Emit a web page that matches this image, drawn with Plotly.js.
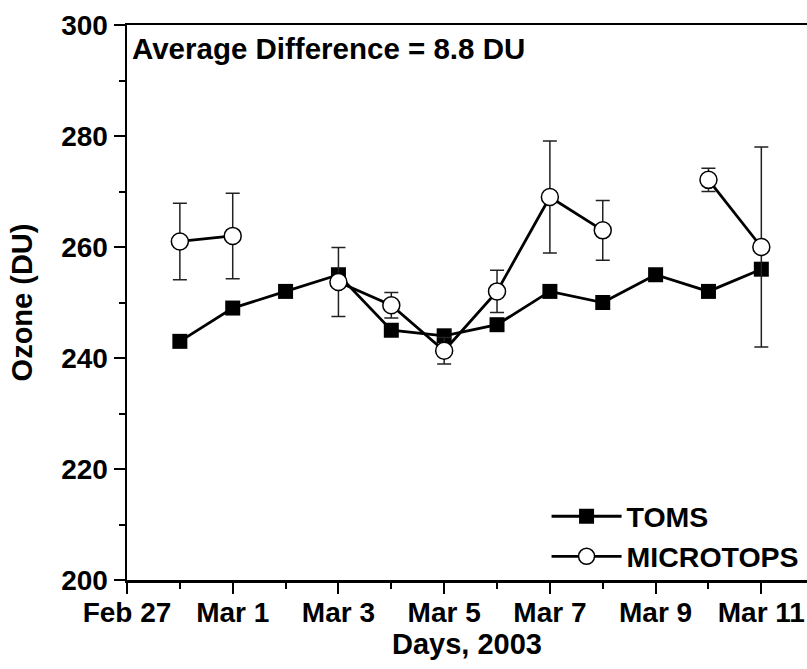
<!DOCTYPE html>
<html>
<head>
<meta charset="utf-8">
<script src="https://cdn.plot.ly/plotly-3.0.1.min.js"></script>
<style>html,body{margin:0;padding:0;background:#fff;}#chart{width:807px;height:669px;}</style>
</head>
<body>
<div id="chart"></div>
<script>
// Dates (2003)
const days = ["2003-02-28","2003-03-01","2003-03-02","2003-03-03","2003-03-04","2003-03-05",
              "2003-03-06","2003-03-07","2003-03-08","2003-03-09","2003-03-10","2003-03-11"];
// TOMS ozone (DU)
const toms = [243, 249, 252, 255, 245, 244, 246, 252, 250, 255, 252, 256];
// MICROTOPS ozone (DU), null = no measurement
const microtops = [261, 262, null, 253.7, 249.5, 241.3, 252, 269, 263, null, 272.1, 260];
// MICROTOPS error (± DU)
const microtopsErr = [6.9, 7.7, null, 6.2, 2.3, 2.4, 3.8, 10.1, 5.4, null, 2.1, 18];

const FONT = "Liberation Sans, Arial, Helvetica, sans-serif";

const traces = [
  {
    x: days, y: toms, name: "TOMS", type: "scatter", mode: "lines+markers",
    line: {color: "#000", width: 2.8},
    marker: {symbol: "square", size: 15, color: "#000"}
  },
  {
    x: days, y: microtops, name: "MICROTOPS", type: "scatter", mode: "lines+markers",
    connectgaps: false,
    line: {color: "#000", width: 2.8},
    marker: {symbol: "circle", size: 17, color: "#fff", line: {color: "#000", width: 1.5}},
    error_y: {type: "data", array: microtopsErr, visible: true, color: "#222", thickness: 1.5, width: 7}
  }
];

const layout = {
  width: 807, height: 669,
  margin: {l: 127, r: 0, t: 25, b: 89},
  paper_bgcolor: "#fff", plot_bgcolor: "#fff",
  font: {family: FONT, color: "#000", size: 28, weight: "bold"},
  showlegend: true,
  legend: {
    x: 0.617, y: 0.16, xanchor: "left", yanchor: "top",
    itemwidth: 70,
    bgcolor: "rgba(0,0,0,0)", borderwidth: 0,
    font: {family: FONT, size: 28.5, weight: "bold", color: "#000"},
    tracegroupgap: 0
  },
  xaxis: {
    type: "date",
    range: ["2003-02-27", "2003-03-11 20:44"],
    tick0: "2003-02-27", dtick: 172800000,
    tickformat: "%b %-d",
    ticks: "outside", ticklen: 11, tickwidth: 2, tickcolor: "#000",
    minor: {dtick: 86400000, ticks: "outside", ticklen: 6, tickwidth: 2, tickcolor: "#000"},
    showline: true, linecolor: "#000", linewidth: 2.5, mirror: true,
    showgrid: false, zeroline: false,
    ticklabelstandoff: -5,
    tickfont: {family: FONT, size: 28, weight: "bold"},
    title: {text: "Days, 2003", font: {family: FONT, size: 29, weight: "bold"}, standoff: 0},
    automargin: false
  },
  yaxis: {
    range: [200, 300], dtick: 20, tick0: 200,
    ticks: "outside", ticklen: 11, tickwidth: 2, tickcolor: "#000",
    minor: {dtick: 10, ticks: "outside", ticklen: 6, tickwidth: 2, tickcolor: "#000"},
    showline: true, linecolor: "#000", linewidth: 2.5, mirror: false,
    showgrid: false, zeroline: false,
    tickfont: {family: FONT, size: 28, weight: "bold"},
    title: {text: "Ozone (DU)", font: {family: FONT, size: 29, weight: "bold"}, standoff: 20},
    automargin: true
  },
  annotations: [{
    xref: "paper", yref: "paper", x: 0.004, y: 0.957, xanchor: "left", yanchor: "middle",
    text: "Average Difference = 8.8 DU", showarrow: false,
    font: {family: FONT, size: 29.5, weight: "bold", color: "#000"}
  }]
};

Plotly.newPlot("chart", traces, layout, {displayModeBar: false, staticPlot: true});
</script>
</body>
</html>
